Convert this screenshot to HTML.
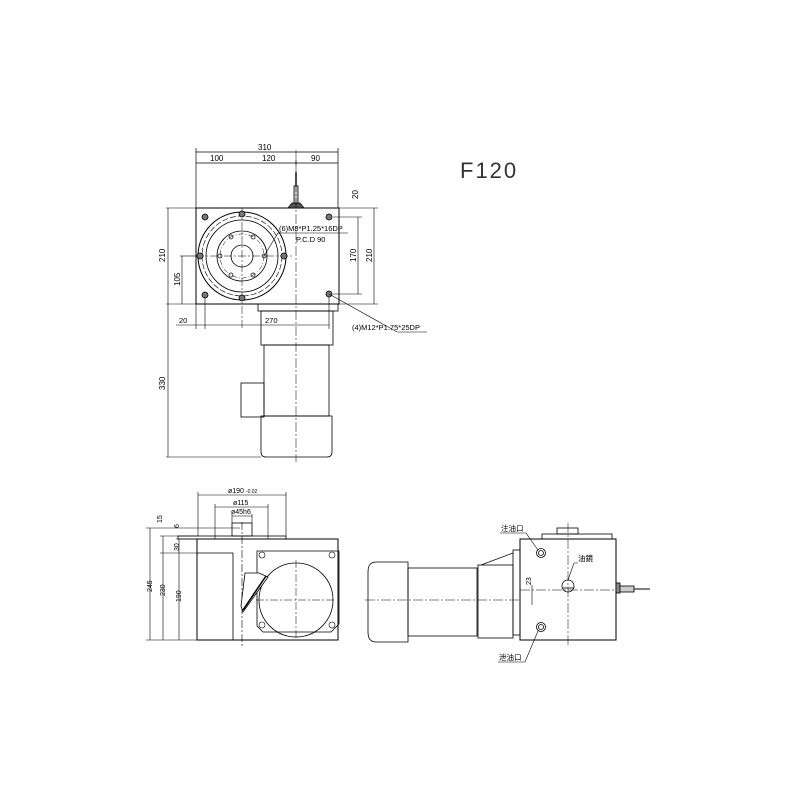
<!DOCTYPE html>
<html><head><style>body{margin:0;background:#fff}svg{display:block}text{font-family:"Liberation Sans","Noto Sans CJK SC",sans-serif;fill:#000}</style></head>
<body>
<svg width="800" height="800" viewBox="0 0 800 800" xmlns="http://www.w3.org/2000/svg" fill="none" stroke="#000" stroke-width="0.8">
<rect width="800" height="800" fill="#fff" stroke="none"/>
<text x="460" y="178" font-size="22" stroke="none" style="fill:#333;letter-spacing:2px">F120</text>

<!-- TOP VIEW -->
<g stroke-width="0.7">
<!-- dims top -->
<line x1="196" y1="148" x2="196" y2="208"/><line x1="338" y1="148" x2="338" y2="208"/>
<line x1="196" y1="152" x2="338" y2="152"/>
<line x1="196" y1="163" x2="338" y2="163"/>
<line x1="296" y1="160" x2="296" y2="166"/>
</g>
<g font-size="8" stroke="none">
<text x="258" y="150">310</text><text x="210" y="161">100</text><text x="262" y="161">120</text><text x="311" y="161">90</text>
</g>
<!-- main box -->
<rect x="196" y="208" width="143" height="96" stroke-width="1"/>
<line x1="166" y1="208" x2="196" y2="208" stroke-width="0.6"/><line x1="339" y1="208" x2="378" y2="208" stroke-width="0.6"/>
<line x1="166" y1="304" x2="196" y2="304" stroke-width="0.6"/><line x1="339" y1="304" x2="378" y2="304" stroke-width="0.6"/>
<line x1="168" y1="208" x2="168" y2="457" stroke-width="0.6"/>
<line x1="182" y1="256" x2="182" y2="304" stroke-width="0.6"/>
<line x1="180" y1="256" x2="196" y2="256" stroke-width="0.6"/>
<line x1="358" y1="217" x2="358" y2="294" stroke-width="0.6"/>
<line x1="374" y1="208" x2="374" y2="304" stroke-width="0.6"/>
<line x1="333" y1="217" x2="362" y2="217" stroke-width="0.6"/><line x1="333" y1="294" x2="362" y2="294" stroke-width="0.6"/>
<g font-size="8" stroke="none">
<text transform="translate(165,262) rotate(-90)">210</text>
<text transform="translate(180,286) rotate(-90)">105</text>
<text transform="translate(356,262) rotate(-90)">170</text>
<text transform="translate(372,262) rotate(-90)">210</text>
<text transform="translate(358,199) rotate(-90)">20</text>
</g>
<!-- flange -->
<circle cx="242" cy="256" r="44" stroke-width="1"/>
<circle cx="242" cy="256" r="40" stroke-dasharray="6 2" stroke-width="0.6"/>
<circle cx="242" cy="256" r="36"/>
<circle cx="242" cy="256" r="25"/>
<circle cx="242" cy="256" r="11"/>
<circle cx="242" cy="256" r="22" stroke-dasharray="5 2 1 2" stroke-width="0.5"/>
<line x1="196" y1="256" x2="292" y2="256" stroke-dasharray="8 2 2 2" stroke-width="0.5"/>
<line x1="242" y1="208" x2="242" y2="330" stroke-dasharray="8 2 2 2" stroke-width="0.5"/>
<g stroke-width="0.7">
<circle cx="264" cy="256" r="2"/><circle cx="220" cy="256" r="2"/>
<circle cx="253" cy="237" r="2"/><circle cx="231" cy="237" r="2"/>
<circle cx="253" cy="275" r="2"/><circle cx="231" cy="275" r="2"/>
</g>
<g fill="#777" stroke-width="0.8">
<circle cx="242" cy="214" r="3"/><circle cx="242" cy="298" r="3"/><circle cx="200" cy="256" r="3"/><circle cx="284" cy="256" r="3"/>
<circle cx="205" cy="217" r="3"/><circle cx="205" cy="295" r="3"/><circle cx="329" cy="217" r="3"/><circle cx="329" cy="294" r="3"/>
</g>
<!-- sensor -->
<path d="M288 208 L292 203 L300 203 L304 208 Z" fill="#555"/>
<rect x="294" y="186" width="4" height="17" fill="#ccc"/>
<line x1="296" y1="172" x2="296" y2="186" stroke-width="1.4"/>
<!-- leaders -->
<polyline points="264,256 278,233 348,233" stroke-width="0.6"/>
<polyline points="329,294 397,332 427,332" stroke-width="0.6"/>
<g font-size="7.5" stroke="none">
<text x="279" y="231">(6)M8*P1.25*16DP</text>
<text x="296" y="242">P.C.D  90</text>
<text x="352" y="330">(4)M12*P1.75*25DP</text>
<text x="179" y="323">20</text><text x="265" y="323">270</text>
</g>
<line x1="196" y1="304" x2="196" y2="329" stroke-width="0.6"/>
<line x1="205" y1="297" x2="205" y2="329" stroke-width="0.6"/>
<line x1="329" y1="297" x2="329" y2="329" stroke-width="0.6"/>
<line x1="176" y1="325" x2="329" y2="325" stroke-width="0.6"/>
<!-- motor top view -->
<rect x="258" y="304" width="80" height="7"/>
<rect x="261" y="311" width="72" height="34"/>
<rect x="264" y="345" width="65" height="71"/>
<rect x="241" y="383" width="23" height="34"/>
<path d="M261 416 H332 V452 Q332 457 327 457 H266 Q261 457 261 452 Z"/>
<line x1="296" y1="150" x2="296" y2="462" stroke-dasharray="10 2 2 2" stroke-width="0.5"/>
<line x1="166" y1="457" x2="261" y2="457" stroke-width="0.6"/>
<text transform="translate(165,390) rotate(-90)" font-size="8" stroke="none">330</text>

<!-- FRONT VIEW bottom-left -->
<g stroke-width="0.6">
<line x1="198" y1="492" x2="198" y2="536"/><line x1="286" y1="492" x2="286" y2="536"/>
<line x1="198" y1="495" x2="286" y2="495"/>
<line x1="215" y1="504" x2="215" y2="539"/><line x1="268" y1="504" x2="268" y2="539"/>
<line x1="215" y1="507" x2="268" y2="507"/>
<line x1="232" y1="514" x2="232" y2="523"/><line x1="252" y1="514" x2="252" y2="523"/>
<line x1="232" y1="516" x2="252" y2="516"/>
<line x1="150" y1="528" x2="150" y2="640"/><line x1="146" y1="528" x2="240" y2="528"/>
<line x1="163" y1="536" x2="163" y2="640"/><line x1="160" y1="536" x2="198" y2="536"/>
<line x1="179" y1="539" x2="179" y2="640"/><line x1="176" y1="539" x2="198" y2="539"/>
<line x1="146" y1="640" x2="197" y2="640"/>
<line x1="160" y1="553" x2="197" y2="553"/>
<line x1="242" y1="522" x2="242" y2="646" stroke-dasharray="8 2 2 2"/>
</g>
<g font-size="7" stroke="none">
<text x="228" y="493">ø190 <tspan font-size="5">-0.02</tspan></text>
<text x="233" y="505">ø115</text>
<text x="231" y="514">ø45h6</text>
<text transform="translate(162,523) rotate(-90)">15</text>
<text transform="translate(179,528) rotate(-90)">6</text>
<text transform="translate(179,551) rotate(-90)">30</text>
<text transform="translate(152,592) rotate(-90)">245</text>
<text transform="translate(165,596) rotate(-90)">230</text>
<text transform="translate(181,602) rotate(-90)">190</text>
</g>
<rect x="232" y="523" width="20" height="13"/>
<rect x="178" y="536" width="108" height="3"/>
<rect x="197" y="539" width="141" height="101" stroke-width="1"/>
<polyline points="197,553 233,553 233,640"/>
<path d="M257 551 H339 V624 L331 632 H263 L257 626 Z"/>
<circle cx="296" cy="600" r="37"/>
<line x1="256" y1="600" x2="336" y2="600" stroke-dasharray="8 2 2 2" stroke-width="0.5"/>
<line x1="296" y1="560" x2="296" y2="640" stroke-dasharray="8 2 2 2" stroke-width="0.5"/>
<g stroke-width="0.6"><circle cx="262" cy="555" r="3"/><circle cx="332" cy="555" r="3"/><circle cx="262" cy="625" r="3"/><circle cx="332" cy="625" r="3"/></g>
<path d="M245 573 L259 573 L268 577 L243 612 L241 606 Z" fill="#fff"/>
<line x1="266" y1="576" x2="243" y2="610" stroke-width="1.5"/>

<!-- SIDE VIEW bottom-right -->
<rect x="520" y="539" width="96" height="101" stroke-width="1"/>
<rect x="542" y="534" width="70" height="5"/>
<rect x="557" y="528" width="21" height="6"/>
<rect x="513" y="550" width="7" height="85"/>
<rect x="478" y="565" width="35" height="73"/>
<line x1="481" y1="565" x2="513" y2="553"/>
<rect x="408" y="568" width="69" height="68"/>
<path d="M408 562 V642 H376 Q368 642 368 632 V572 Q368 562 376 562 Z"/>
<line x1="365" y1="600" x2="520" y2="600" stroke-dasharray="10 2 2 2" stroke-width="0.5"/>
<line x1="520" y1="590" x2="628" y2="590" stroke-dasharray="10 2 2 2" stroke-width="0.5"/>
<line x1="568" y1="523" x2="568" y2="646" stroke-dasharray="10 2 2 2" stroke-width="0.5"/>
<circle cx="568" cy="586" r="6"/><line x1="563" y1="588" x2="573" y2="588"/>
<circle cx="541" cy="553" r="4.5"/><circle cx="541" cy="553" r="2.5"/>
<circle cx="541" cy="627" r="4.5"/><circle cx="541" cy="627" r="2.5"/>
<rect x="616" y="583" width="4" height="10" fill="#888"/>
<rect x="620" y="586" width="14" height="6" fill="#ccc"/>
<line x1="634" y1="589" x2="650" y2="589" stroke-width="1"/>
<line x1="532" y1="585" x2="532" y2="605" stroke-width="0.6"/>
<text transform="translate(531,585) rotate(-90)" font-size="7" stroke="none">23</text>
<polyline points="500,533 526,533 538,550" stroke-width="0.6"/>
<polyline points="578,563 574,563 568,580" stroke-width="0.6"/>
<polyline points="498,662 525,662 538,631" stroke-width="0.6"/>
<g font-size="7.5" stroke="none">
<text x="501" y="531">注油口</text>
<text x="578" y="561">油鏡</text>
<text x="499" y="660">泄油口</text>
</g>
</svg>
</body></html>
